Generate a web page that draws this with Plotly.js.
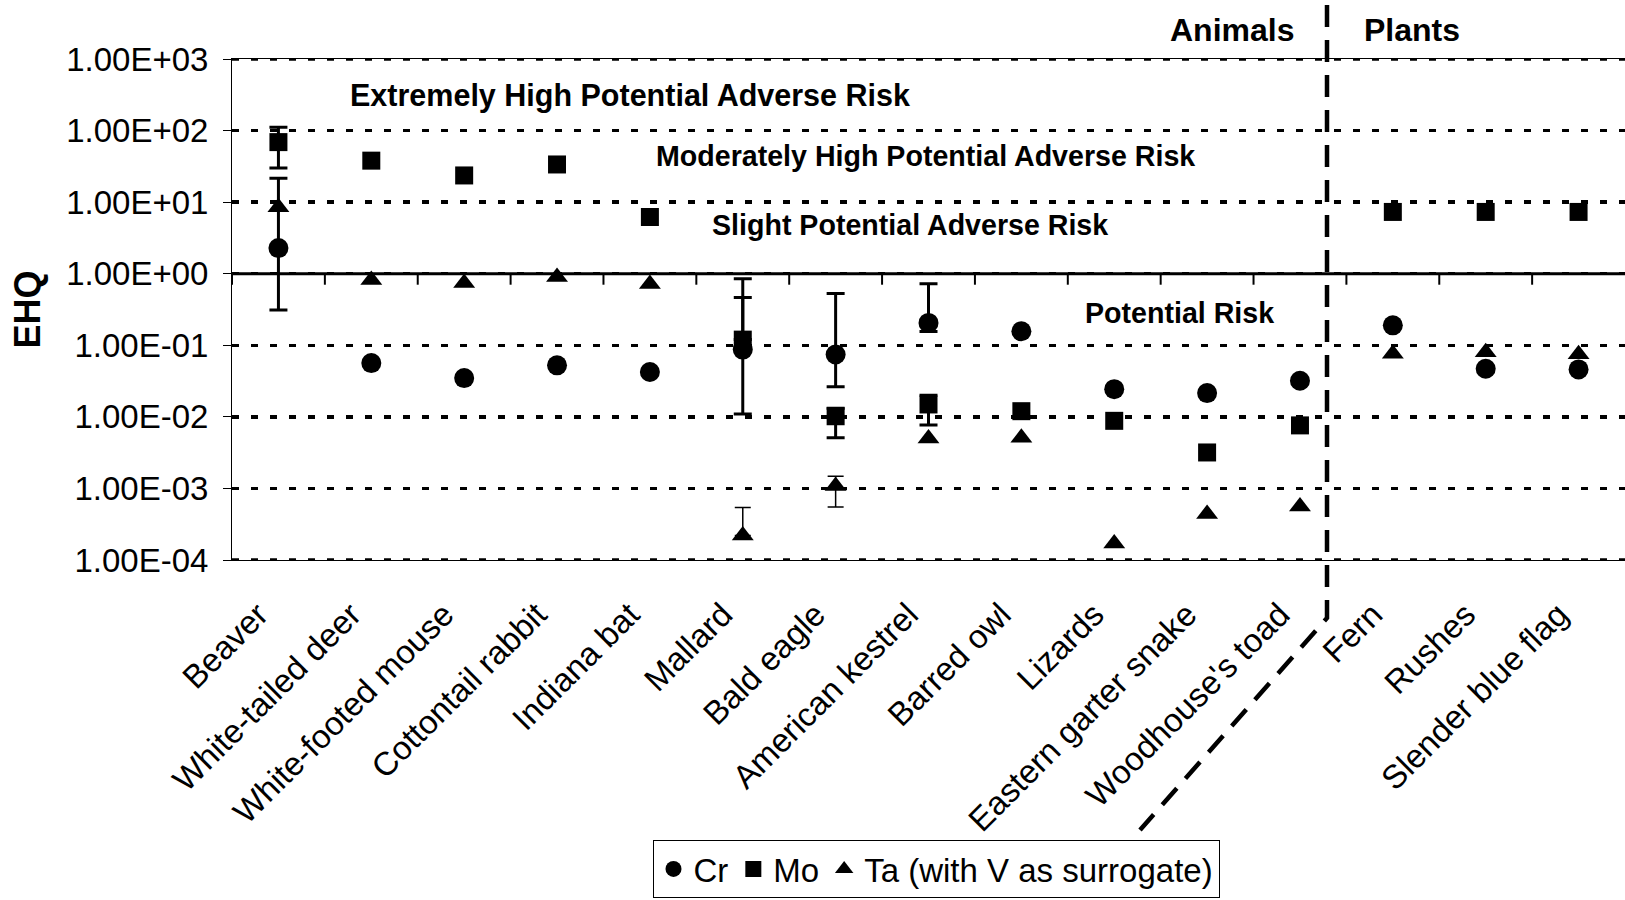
<!DOCTYPE html>
<html>
<head>
<meta charset="utf-8">
<script src="https://cdn.plot.ly/plotly-3.0.1.min.js"></script>
<style>html,body{margin:0;padding:0;background:#fff;}#chart{width:1625px;height:900px;}</style>
</head>
<body>
<div id="chart"></div>
<script>
// ---- data ----
const categories = ["Beaver", "White-tailed deer", "White-footed mouse", "Cottontail rabbit", "Indiana bat",
  "Mallard", "Bald eagle", "American kestrel", "Barred owl", "Lizards", "Eastern garter snake",
  "Woodhouse's toad", "Fern", "Rushes", "Slender blue flag"];

const crValues   = [2.28, 0.0564, 0.0348, 0.0524, 0.0423, 0.087, 0.0744, 0.2055, 0.157, 0.0244, 0.0215, 0.032, 0.19, 0.047, 0.046];
const crErrPlus  = [19.3, NaN, NaN, NaN, NaN, 0.38, 0.455, 0.52, NaN, NaN, NaN, NaN, NaN, NaN, NaN];
const crErrMinus = [1.97, NaN, NaN, NaN, NaN, 0.076, 0.048, 0.05, NaN, NaN, NaN, NaN, NaN, NaN, NaN];

const moValues   = [69, 38, 23.6, 33.6, 6.2, 0.12, 0.0102, 0.0149, 0.012, 0.0088, 0.00318, 0.0076, 7.3, 7.3, 7.3];
const moErrPlus  = [42, NaN, NaN, NaN, NaN, 0.73, 0.003, 0.0051, NaN, NaN, NaN, NaN, NaN, NaN, NaN];
const moErrMinus = [39, NaN, NaN, NaN, NaN, NaN, 0.0051, 0.0072, NaN, NaN, NaN, NaN, NaN, NaN, NaN];

const taValues   = [8.5, 0.82, 0.74, 0.90, 0.72, 0.00022, 0.00108, 0.005, 0.0051, 0.00017, 0.00044, 0.00056, 0.076, 0.08, 0.075];
const taErrPlus  = [NaN, NaN, NaN, NaN, NaN, 0.00032, 0.0004, NaN, NaN, NaN, NaN, NaN, NaN, NaN, NaN];
const taErrMinus = [NaN, NaN, NaN, NaN, NaN, NaN, 0.00053, NaN, NaN, NaN, NaN, NaN, NaN, NaN, NaN];

const seriesNames = ["Cr", "Mo", "Ta (with V as surrogate)"];
const yTickVals = [1e-4, 1e-3, 1e-2, 1e-1, 1e0, 1e1, 1e2, 1e3];
const yTickText = ["1.00E-04", "1.00E-03", "1.00E-02", "1.00E-01", "1.00E+00", "1.00E+01", "1.00E+02", "1.00E+03"];
const riskLabels = ["Extremely High Potential Adverse Risk", "Moderately High Potential Adverse Risk",
  "Slight Potential Adverse Risk", "Potential Risk"];
const groupLabels = ["Animals", "Plants"];

// ---- layout geometry ----
const W = 1625, H = 900;
const M = {l: 232, r: 0, t: 59, b: 340};
const PW = W - M.l - M.r, PH = H - M.t - M.b;
const px = x => (x - M.l) / PW;
const py = y => (H - M.b - y) / PH;

const FONT = "Liberation Sans, Arial, sans-serif";
const GRID_DASH = "7px,12px";

function errObj(plus, minus, thick, w) {
  return {type: "data", symmetric: false, array: plus, arrayminus: minus,
          color: "#000", thickness: thick, width: w, visible: true};
}

const traces = [
  {x: categories, y: crValues, name: seriesNames[0], type: "scatter", mode: "markers",
   marker: {symbol: "circle", size: 20, color: "#000"},
   error_y: errObj(crErrPlus, crErrMinus, 3, 9)},
  {x: categories, y: moValues, name: seriesNames[1], type: "scatter", mode: "markers",
   marker: {symbol: "square", size: 18, color: "#000"},
   error_y: errObj(moErrPlus, moErrMinus, 3, 9)},
  {x: categories, y: taValues, name: seriesNames[2], type: "scatter", mode: "markers",
   marker: {symbol: "triangle-up", size: 19, color: "#000"},
   error_y: errObj(taErrPlus, taErrMinus, 1.5, 8)}
];

// horizontal axis crosses at EHQ = 1; its tick marks hang below it
const crossY = 1;
const crossTickEnd = crossY * Math.pow(10, -11 / (PH / 7));

const shapes = [
  {type: "line", xref: "paper", yref: "y", x0: 0, x1: 1, y0: yTickVals[0], y1: yTickVals[0],
   line: {color: "#000", width: 3.5, dash: GRID_DASH}},
  {type: "line", xref: "paper", yref: "y", x0: 0, x1: 1, y0: yTickVals[7], y1: yTickVals[7],
   line: {color: "#000", width: 3.5, dash: GRID_DASH}},
  {type: "line", xref: "paper", yref: "y", x0: 0, x1: 1, y0: crossY, y1: crossY, line: {color: "#000", width: 3}},
  {type: "path", xref: "paper", yref: "paper",
   path: `M${px(1327)},${py(5)} L${px(1327)},${py(618)} L${px(1140)},${py(830)}`,
   line: {color: "#000", width: 4.5, dash: "22px,13px"}}
];
for (let i = 0; i < categories.length; i++) {
  shapes.push({type: "line", xref: "x", yref: "y", x0: i - 0.5, x1: i - 0.5,
    y0: crossY, y1: crossTickEnd, line: {color: "#000", width: 2}});
}

const boldFont = s => ({family: FONT, size: s, color: "#000", weight: "bold"});
const annotations = [
  {text: riskLabels[0], x: px(348), y: py(96), font: boldFont(30.5)},
  {text: riskLabels[1], x: px(654), y: py(156), font: boldFont(28.6)},
  {text: riskLabels[2], x: px(710), y: py(225), font: boldFont(28.6)},
  {text: riskLabels[3], x: px(1083), y: py(313), font: boldFont(28.6)},
  {text: groupLabels[1], x: px(1362), y: py(30), font: boldFont(32)},
  {text: groupLabels[0], x: px(1296), y: py(30), font: boldFont(32), xanchor: "right"}
].map(a => Object.assign({xref: "paper", yref: "paper", xanchor: "left", yanchor: "middle",
  showarrow: false}, a));

const layout = {
  width: W, height: H,
  margin: M,
  paper_bgcolor: "#fff", plot_bgcolor: "#fff",
  font: {family: FONT, size: 32, color: "#000"},
  showlegend: true,
  legend: {orientation: "h", x: px(936), xanchor: "center", y: py(898), yanchor: "bottom",
           bordercolor: "#000", borderwidth: 1, bgcolor: "#fff", font: {family: FONT, size: 33, color: "#000"},
           itemwidth: 30},
  xaxis: {type: "category", categoryorder: "array", categoryarray: categories,
          range: [-0.5, categories.length - 0.5], tickangle: -45,
          ticks: "", showgrid: false, zeroline: false,
          showline: true, mirror: true, linecolor: "#000", linewidth: 1,
          tickfont: {family: FONT, size: 33, color: "#000"}, ticklabelstandoff: 21, ticklabelshift: -20,
          automargin: false},
  yaxis: {type: "log", range: [-4, 3], tickmode: "array", tickvals: yTickVals, ticktext: yTickText,
          ticks: "outside", ticklen: 8, tickwidth: 1, tickcolor: "#000",
          showline: true, linecolor: "#000", linewidth: 1,
          showgrid: true, gridcolor: "#000", gridwidth: 3.5, griddash: GRID_DASH,
          zeroline: false, automargin: false, ticklabelstandoff: 8,
          tickfont: {family: FONT, size: 33, color: "#000"},
          title: {text: "EHQ", font: boldFont(36), standoff: 14}},
  shapes: shapes,
  annotations: annotations
};

Plotly.newPlot("chart", traces, layout, {displayModeBar: false, staticPlot: true});
</script>
</body>
</html>
